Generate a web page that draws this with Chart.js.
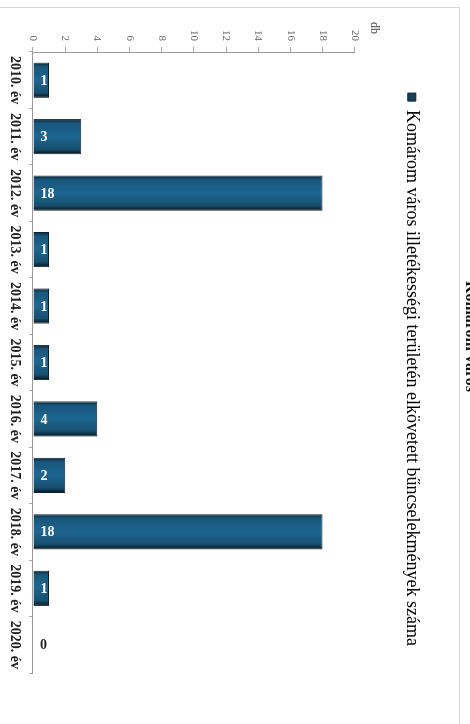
<!DOCTYPE html>
<html>
<head>
<meta charset="utf-8">
<script src="https://cdn.jsdelivr.net/npm/chart.js@4/dist/chart.umd.min.js"></script>
<style>
  html, body { margin: 0; padding: 0; background: #fff; width: 470px; height: 724px; overflow: hidden; }
  /* the scanned page is turned 90 degrees, so the chart is drawn upright and rotated */
  #wrap { position: absolute; left: 480px; top: 0; width: 724px; height: 480px; transform-origin: 0 0; transform: rotate(90deg); }
</style>
</head>
<body>
<div id="wrap"><canvas id="chart" width="724" height="480"></canvas></div>
<script>
var years = ['2010. év', '2011. év', '2012. év', '2013. év', '2014. év', '2015. év',
             '2016. év', '2017. év', '2018. év', '2019. év', '2020. év'];
var crimeCounts = [1, 3, 18, 1, 1, 1, 4, 2, 18, 1, 0];
var seriesName = 'Komárom város illetékességi területén elkövetett bűncselekmények száma';
var chartTitle = 'Komárom város';
var unitLabel = 'db';

var serif = '"Liberation Serif", "Times New Roman", serif';
var barPct = 0.78, catPct = 0.8;

// bevelled look: dark edges, lighter middle, across the bar thickness
function barFill(ctx) {
    var chart = ctx.chart, xs = chart.scales.x;
    if (!xs || !xs.width) return '#1d6590';
    var cx = xs.getPixelForValue(ctx.dataIndex);
    var w = xs.width / years.length * catPct * barPct;
    var g = chart.ctx.createLinearGradient(cx - w / 2, 0, cx + w / 2, 0);
    g.addColorStop(0, '#0c2638');
    g.addColorStop(0.12, '#19577c');
    g.addColorStop(0.5, '#1d6590');
    g.addColorStop(0.85, '#174f6e');
    g.addColorStop(1, '#05111a');
    return g;
}

// page frame, "db" unit label, value labels
var scanPlugin = {
    id: 'scan',
    beforeInit: function (chart) {
        var lg = chart.legend;
        var fit = lg.fit, draw = lg.draw;
        lg.fit = function () {
            fit.bind(lg)();
            this.height += 38;
        };
        lg.draw = function () {
            chart.ctx.save();
            chart.ctx.translate(33, 0);
            draw.bind(lg)();
            chart.ctx.restore();
        };
    },
    beforeDraw: function (chart) {
        var c = chart.ctx;
        c.save();
        c.strokeStyle = '#d6d6d6';
        c.lineWidth = 1;
        c.beginPath();
        c.moveTo(7.5, 480); c.lineTo(7.5, 20.5); c.lineTo(724, 20.5);
        c.stroke();
        c.restore();
    },
    afterDatasetsDraw: function (chart) {
        var c = chart.ctx;
        var y = chart.scales.y;
        c.save();
        c.font = '12px ' + serif;
        c.fillStyle = '#444';
        c.textAlign = 'center';
        c.textBaseline = 'middle';
        c.fillText(unitLabel, 28, y.top - 19);

        c.font = 'bold 14px ' + serif;
        c.textAlign = 'left';
        chart.getDatasetMeta(0).data.forEach(function (bar, i) {
            c.save();
            c.translate(bar.x, bar.base - 7);
            c.rotate(-Math.PI / 2);
            c.fillStyle = crimeCounts[i] > 0 ? '#ffffff' : '#222222';
            c.fillText(String(crimeCounts[i]), 0, 1);
            c.restore();
        });
        c.restore();
    }
};

new Chart(document.getElementById('chart').getContext('2d'), {
    type: 'bar',
    data: {
        labels: years,
        datasets: [{
            label: seriesName,
            data: crimeCounts,
            backgroundColor: barFill,
            borderColor: '#0a2233',
            borderWidth: 1,
            barPercentage: barPct,
            categoryPercentage: catPct
        }]
    },
    options: {
        responsive: false,
        animation: false,
        layout: { padding: { left: 0, right: 51, top: 0, bottom: 0 } },
        plugins: {
            tooltip: { enabled: false },
            title: {
                display: true,
                text: chartTitle,
                color: '#111',
                font: { family: serif, size: 16, weight: 'bold' },
                padding: { top: 0, bottom: 30 }
            },
            legend: {
                display: true,
                labels: {
                    color: '#222',
                    font: { family: serif, size: 18 },
                    boxWidth: 8,
                    boxHeight: 8,
                    padding: 10,
                    generateLabels: function (chart) {
                        return [{
                            text: seriesName,
                            fillStyle: '#173f5a',
                            strokeStyle: '#0a2233',
                            lineWidth: 1,
                            datasetIndex: 0
                        }];
                    }
                }
            }
        },
        scales: {
            x: {
                grid: { display: true, drawOnChartArea: false, tickLength: 4, color: '#aaa' },
                border: { color: '#999' },
                ticks: {
                    color: '#222',
                    padding: 6,
                    maxRotation: 0,
                    font: { family: serif, size: 14, weight: 'bold' }
                },
                afterFit: function (s) { s.height = 33; }
            },
            y: {
                min: 0,
                max: 20,
                grid: { display: true, drawOnChartArea: false, tickLength: 5, color: '#aaa' },
                border: { color: '#999' },
                ticks: {
                    stepSize: 2,
                    color: '#666',
                    padding: 6,
                    font: { family: serif, size: 11 }
                },
                afterFit: function (s) { s.width = 52; }
            }
        }
    },
    plugins: [scanPlugin]
});
</script>
</body>
</html>
